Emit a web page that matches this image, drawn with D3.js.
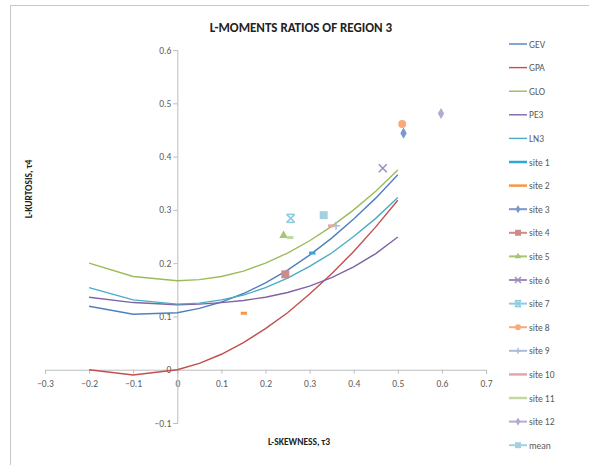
<!DOCTYPE html>
<html>
<head>
<meta charset="utf-8">
<script src="https://cdn.jsdelivr.net/npm/d3@7"></script>
<style>
  body { margin: 0; background: #fff; }
  svg { display: block; }
  text { font-family: Carlito, "Liberation Sans Narrow", "Open Sans", sans-serif; }
</style>
</head>
<body>
<div id="chart"></div>
<script>
// theoretical curves, sampled at these tau3 values
const tau3 = [-0.2, -0.1, 0, 0.05, 0.1, 0.15, 0.2, 0.25, 0.3, 0.35, 0.4, 0.45, 0.5];
const gev = [0.119, 0.104, 0.107, 0.115, 0.127, 0.143, 0.163, 0.187, 0.215, 0.247, 0.283, 0.322, 0.366];
const gpa = [0, -0.010, 0, 0.012, 0.029, 0.051, 0.077, 0.107, 0.142, 0.180, 0.222, 0.268, 0.318];
const glo = [0.2, 0.175, 0.167, 0.169, 0.175, 0.185, 0.2, 0.219, 0.242, 0.269, 0.3, 0.335, 0.375];
const pe3 = [0.136, 0.126, 0.122, 0.123, 0.126, 0.130, 0.136, 0.145, 0.157, 0.173, 0.193, 0.218, 0.249];
const ln3 = [0.154, 0.131, 0.123, 0.125, 0.131, 0.140, 0.154, 0.172, 0.194, 0.219, 0.250, 0.284, 0.323];

// sample L-moment ratios
const siteNames = ['site 1', 'site 2', 'site 3', 'site 4', 'site 5', 'site 6', 'site 7',
    'site 8', 'site 9', 'site 10', 'site 11', 'site 12', 'mean'];
const siteT3 = [0.306, 0.151, 0.513, 0.245, 0.241, 0.466, 0.257, 0.510, 0.360, 0.349, 0.256, 0.598, 0.332];
const siteT4 = [0.219, 0.106, 0.444, 0.179, 0.252, 0.378, 0.284, 0.461, 0.270, 0.270, 0.248, 0.481, 0.290];

const xTicks = [-0.3, -0.2, -0.1, 0, 0.1, 0.2, 0.3, 0.4, 0.5, 0.6, 0.7];
const yTicks = [-0.1, 0, 0.1, 0.2, 0.3, 0.4, 0.5, 0.6];

const curves = [
    {name: 'GEV', values: gev, color: '#4F81BD'},
    {name: 'GPA', values: gpa, color: '#C0504D'},
    {name: 'GLO', values: glo, color: '#9BBB59'},
    {name: 'PE3', values: pe3, color: '#8064A2'},
    {name: 'LN3', values: ln3, color: '#4BACC6'}
];
const siteColors = ['#2FA8D8', '#F79646', '#7A98CB', '#CF8B89', '#A6C575', '#9F8CC0',
    '#8DCBE0', '#F9A97A', '#AABCDD', '#E2A8A7', '#C2D8A0', '#B6A8D0', '#A5D0E0'];
const siteMarkers = ['dash', 'dash', 'diamond', 'square', 'triangle', 'x', 'star',
    'circle', 'plus', 'dash', 'dash', 'diamond', 'square'];

const width = 589, height = 465;
const x = d3.scaleLinear().domain([-0.3, 0.7]).range([45, 486]);
const y = d3.scaleLinear().domain([-0.1, 0.6]).range([423, 50]);

const svg = d3.select('#chart').append('svg')
    .attr('width', width)
    .attr('height', height);

svg.append('rect')
    .attr('x', 10.5).attr('y', 5.5)
    .attr('width', 600).attr('height', 470)
    .attr('fill', '#fff')
    .attr('stroke', '#c8c8c8');

svg.append('text')
    .attr('x', 301).attr('y', 32)
    .attr('text-anchor', 'middle')
    .attr('font-size', 13).attr('font-weight', 'bold')
    .attr('fill', '#222')
    .text('L-MOMENTS RATIOS OF REGION 3');

const fmt = d => d === 0 ? '0' : d3.format('.1f')(d);

const xAxis = svg.append('g')
    .attr('transform', `translate(0,${y(0)})`)
    .call(d3.axisBottom(x).tickValues(xTicks).tickFormat(fmt).tickSize(4).tickSizeOuter(4));
const yAxis = svg.append('g')
    .attr('transform', `translate(${x(0)},0)`)
    .call(d3.axisLeft(y).tickValues(yTicks).tickFormat(fmt).tickSize(4).tickSizeOuter(4));

[xAxis, yAxis].forEach(g => {
    g.select('.domain').attr('stroke', '#bdbdbd');
    g.selectAll('.tick line').attr('stroke', '#bdbdbd');
    g.selectAll('.tick text')
        .attr('fill', '#595959')
        .attr('font-size', 9.5)
        .style('font-family', 'Carlito, "Liberation Sans Narrow", "Open Sans", sans-serif');
});
xAxis.selectAll('.tick text').attr('dy', '1.1em');
yAxis.selectAll('.tick text').attr('x', -6);

svg.append('text')
    .attr('x', 299).attr('y', 445)
    .attr('text-anchor', 'middle')
    .attr('font-size', 9.5).attr('font-weight', 'bold')
    .attr('fill', '#222')
    .text('L-SKEWNESS, τ3');

svg.append('text')
    .attr('transform', 'translate(32,189) rotate(-90)')
    .attr('text-anchor', 'middle')
    .attr('font-size', 9.5).attr('font-weight', 'bold')
    .attr('fill', '#222')
    .text('L-KURTOSIS, τ4');

const line = d3.line()
    .x((d, i) => x(tau3[i]))
    .y(d => y(d));

svg.append('g').selectAll('path')
    .data(curves)
    .enter().append('path')
    .attr('d', d => line(d.values))
    .attr('fill', 'none')
    .attr('stroke', d => d.color)
    .attr('stroke-width', 1.4);

function drawMarker(g, type, color, s) {
    if (type === 'dash') {
        g.append('rect').attr('x', -s * 0.45).attr('y', -1.5)
            .attr('width', s * 0.9).attr('height', 3).attr('fill', color);
    } else if (type === 'x' || type === 'star' || type === 'plus') {
        const h = s / 2;
        let segs = [];
        if (type !== 'plus') segs.push([-h, -h, h, h], [-h, h, h, -h]);
        if (type === 'star') segs.push([-h, -h, h, -h], [-h, h, h, h]);
        if (type === 'plus') segs.push([-h, 0, h, 0], [0, -h, 0, h]);
        segs.forEach(p => g.append('line')
            .attr('x1', p[0]).attr('y1', p[1]).attr('x2', p[2]).attr('y2', p[3])
            .attr('stroke', color).attr('stroke-width', 1.5));
    } else {
        const sym = {diamond: d3.symbolDiamond, square: d3.symbolSquare,
            triangle: d3.symbolTriangle, circle: d3.symbolCircle}[type];
        const area = type === 'diamond' ? s * s * 0.55 : type === 'triangle' ? s * s * 0.5 : s * s * (type === 'circle' ? 0.78 : 1);
        g.append('path').attr('d', d3.symbol(sym, area)()).attr('fill', color);
    }
}

siteNames.forEach((name, i) => {
    const g = svg.append('g')
        .attr('transform', `translate(${x(siteT3[i])},${y(siteT4[i])})`);
    const size = siteMarkers[i] === 'dash' ? 7 : 8;
    drawMarker(g, siteMarkers[i], siteColors[i], size);
});

// legend
const legendItems = curves.map(c => ({name: c.name, color: c.color, marker: null, w: 1.4}))
    .concat(siteNames.map((n, i) => ({name: n, color: siteColors[i], marker: siteMarkers[i], w: 2})));

const legend = svg.append('g');
legendItems.forEach((d, i) => {
    const ly = 44 + i * 23.6;
    const g = legend.append('g').attr('transform', `translate(0,${ly})`);
    g.append('line')
        .attr('x1', 509).attr('x2', 527)
        .attr('stroke', d.color).attr('stroke-width', d.marker === 'dash' ? 2.5 : d.w);
    if (d.marker && d.marker !== 'dash') {
        const m = g.append('g').attr('transform', 'translate(518,0)');
        drawMarker(m, d.marker, d.color, 6);
    }
    g.append('text')
        .attr('x', 529).attr('y', 3.5)
        .attr('font-size', 9.5)
        .attr('fill', '#595959')
        .text(d.name);
});
</script>
</body>
</html>
